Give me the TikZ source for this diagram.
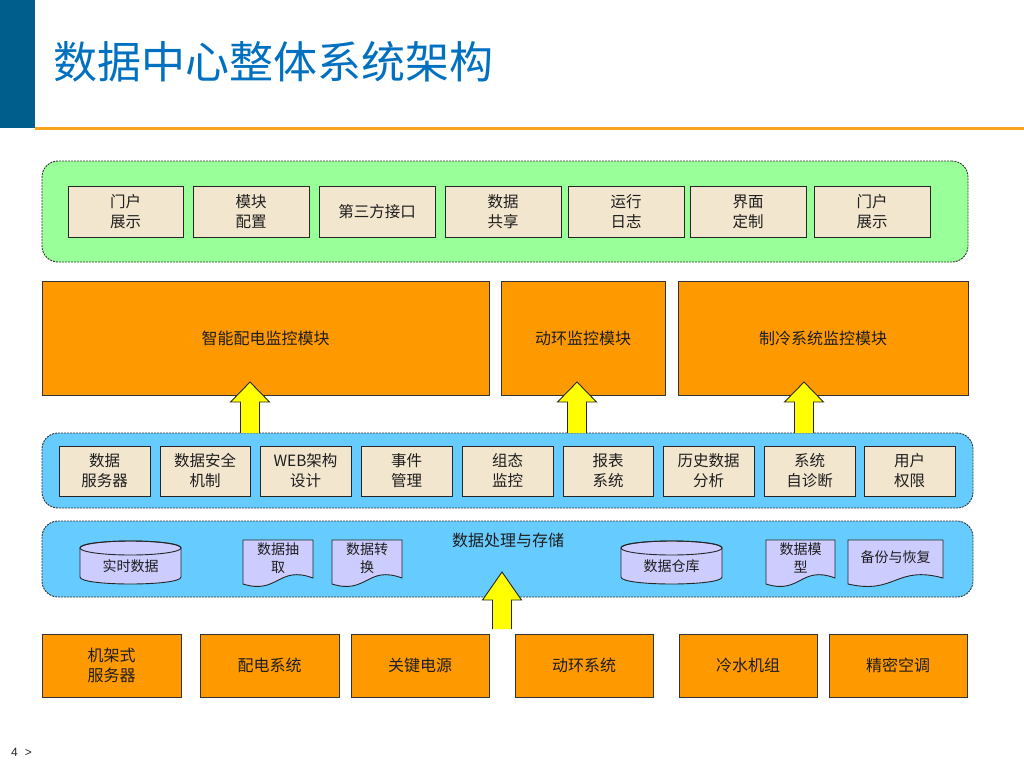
\documentclass[tikz,border=0pt]{standalone}
\usepackage{fontspec}
\setmainfont{Noto Sans CJK SC}
\newfontfamily\pagefont{Liberation Sans}
\usetikzlibrary{positioning}
\definecolor{hdrblue}{RGB}{0,94,140}
\definecolor{ttlblue}{RGB}{0,112,192}
\definecolor{hdrline}{RGB}{249,163,27}
\definecolor{pgreen}{RGB}{153,255,153}
\definecolor{pblue}{RGB}{102,204,255}
\definecolor{beige}{RGB}{242,230,206}
\definecolor{orng}{RGB}{255,153,0}
\definecolor{lav}{RGB}{204,204,255}
\definecolor{yel}{RGB}{255,255,0}
\definecolor{txt}{RGB}{30,30,30}
\tikzset{
  panel/.style={draw=black!80, line width=0.9pt, dash pattern=on 2pt off 1pt, rounded corners=16pt, inner sep=0pt},
  cell/.style={draw=black!85, line width=0.9pt, fill=beige, inner sep=0pt, align=center, text=txt,
    font=\fontsize{15.5}{20}\selectfont, minimum height=51pt},
  module/.style={draw=black!80, line width=0.9pt, fill=orng, inner sep=0pt, align=center, text=txt,
    font=\fontsize{16}{20}\selectfont, minimum height=114pt},
  source/.style={draw=black!80, line width=0.9pt, fill=orng, inner sep=0pt, align=center, text=txt,
    font=\fontsize{16}{20}\selectfont, minimum width=139pt, minimum height=63pt},
  shp/.style={draw=black!85, line width=0.9pt, fill=lav},
  lbl/.style={inner sep=0pt, align=center, text=txt, font=\fontsize{14}{18}\selectfont},
  arrline/.style={draw=black!85, line width=0.9pt, line join=miter}
}
\newcommand\mycyl[4]{%
  \pgfmathsetmacro\cylcx{(#1+#2)/2}%
  \pgfmathsetmacro\cylrx{(#2-#1)/2}%
  \path[shp] (#1,{#3+7}) -- (#1,{#4-7}) .. controls (#1,{#4+2.33}) and (#2,{#4+2.33}) .. (#2,{#4-7})
     -- (#2,{#3+7}) .. controls (#2,{#3-2.33}) and (#1,{#3-2.33}) .. (#1,{#3+7}) -- cycle;
  \draw[draw=black!85, line width=0.9pt] (\cylcx,{#3+7}) ellipse[x radius=\cylrx, y radius=7];
}
\newcommand\mydoc[4]{%
  \pgfmathsetmacro\docmid{(#1+#2)/2}%
  \path[shp] (#1,#3) -- (#2,#3) -- (#2,{#4-6}) .. controls (\docmid,{#4-19}) and (\docmid,{#4+11}) .. (#1,#4) -- cycle;
}
\newcommand\myarrow[4]{%
  \fill[yel] ({#1-9.5},#4) -- ({#1-9.5},#3) -- ({#1-19.5},#3) -- (#1,#2) -- ({#1+19.5},#3) -- ({#1+9.5},#3) -- ({#1+9.5},#4) -- cycle;
  \draw[arrline] ({#1-9.5},#4) -- ({#1-9.5},#3) -- ({#1-19.5},#3) -- (#1,#2) -- ({#1+19.5},#3) -- ({#1+9.5},#3) -- ({#1+9.5},#4);
}
\begin{document}
\begin{tikzpicture}[x=1pt,y=-1pt]
\useasboundingbox (0,0) rectangle (1024,768);
\fill[white] (0,0) rectangle (1024,768);
% header
\fill[hdrblue] (0,0) rectangle (35,128);
\fill[hdrline] (35,127) rectangle (1024,129.5);
\node[anchor=west, inner sep=0pt, text=ttlblue, font=\fontsize{44}{48}\selectfont] (title) at (53,62) {数据中心整体系统架构};
% green panel
\node[panel, fill=pgreen, minimum width=926pt, minimum height=101pt] (gp) at (505,211.5) {};
\node[cell, minimum width=115pt] (t1) at (125.5,211.5) {门户\\展示};
\node[cell, minimum width=116pt] (t2) at (251,211.5) {模块\\配置};
\node[cell, minimum width=116pt] (t3) at (377,211.5) {第三方接口};
\node[cell, minimum width=116pt] (t4) at (503,211.5) {数据\\共享};
\node[cell, minimum width=116pt] (t5) at (626,211.5) {运行\\日志};
\node[cell, minimum width=116pt] (t6) at (748,211.5) {界面\\定制};
\node[cell, minimum width=116pt] (t7) at (872,211.5) {门户\\展示};
% modules
\node[module, minimum width=447pt] (m1) at (265.5,338) {智能配电监控模块};
\node[module, minimum width=164pt] (m2) at (583,338) {动环监控模块};
\node[module, minimum width=290pt] (m3) at (823,338) {制冷系统监控模块};
% blue panel 1
\node[panel, fill=pblue, minimum width=931pt, minimum height=75pt] (bp1) at (507.5,470.5) {};
\node[cell, minimum width=91pt, minimum height=50pt] (b1) at (104.5,471) {数据\\服务器};
\node[cell, minimum width=90pt, minimum height=50pt] (b2) at (205,471) {数据安全\\机制};
\node[cell, minimum width=91pt, minimum height=50pt] (b3) at (305.5,471) {WEB架构\\设计};
\node[cell, minimum width=91pt, minimum height=50pt] (b4) at (406.5,471) {事件\\管理};
\node[cell, minimum width=91pt, minimum height=50pt] (b5) at (507.5,471) {组态\\监控};
\node[cell, minimum width=90pt, minimum height=50pt] (b6) at (608,471) {报表\\系统};
\node[cell, minimum width=91pt, minimum height=50pt] (b7) at (708.5,471) {历史数据\\分析};
\node[cell, minimum width=91pt, minimum height=50pt] (b8) at (809.5,471) {系统\\自诊断};
\node[cell, minimum width=91pt, minimum height=50pt] (b9) at (909.5,471) {用户\\权限};
% arrows to modules
\myarrow{250}{382}{402}{433}
\myarrow{577}{382}{402}{433}
\myarrow{804}{382}{402}{433}
% blue panel 2
\node[panel, fill=pblue, minimum width=931pt, minimum height=76pt] (bp2) at (507.5,559) {};
\node[lbl, font=\fontsize{16}{20}\selectfont] (bp2t) at (508,540) {数据处理与存储};
\mycyl{80}{181}{541}{584}
\node[lbl] (c1) at (130.5,566) {实时数据};
\mycyl{621}{722}{541}{584}
\node[lbl] (c2) at (671.5,566) {数据仓库};
\mydoc{243}{313}{540}{584}
\node[lbl] (d1) at (278,558) {数据抽\\取};
\mydoc{332}{402}{540}{584}
\node[lbl] (d2) at (367,558) {数据转\\换};
\mydoc{766}{835}{540}{584}
\node[lbl] (d3) at (800.5,558) {数据模\\型};
\mydoc{848}{943}{540}{584}
\node[lbl] (d4) at (895.5,557) {备份与恢复};
% arrow from sources
\myarrow{502}{572}{600}{629}
% sources
\node[source] (s1) at (111.5,665.5) {机架式\\服务器};
\node[source] (s2) at (269.5,665.5) {配电系统};
\node[source, minimum width=138pt] (s3) at (420,665.5) {关键电源};
\node[source, minimum width=138pt] (s4) at (584,665.5) {动环系统};
\node[source, minimum width=138pt] (s5) at (748,665.5) {冷水机组};
\node[source, minimum width=138pt] (s6) at (898,665.5) {精密空调};
% page number
\node[anchor=west, inner sep=0pt, text=black!85, font=\pagefont\fontsize{12}{14}\selectfont] (pg) at (11,752) {4\hspace{7pt}>};
\end{tikzpicture}
\end{document}
